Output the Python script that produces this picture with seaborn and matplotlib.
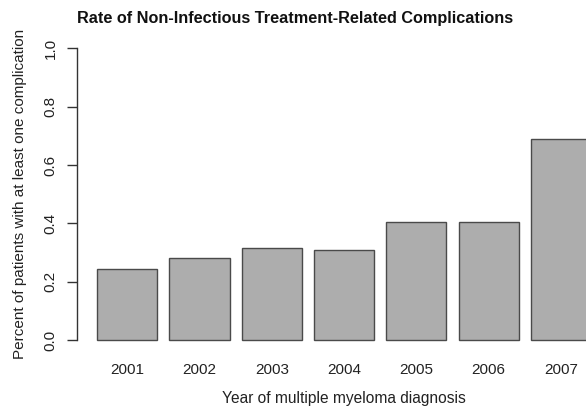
import matplotlib
matplotlib.use("Agg")
import matplotlib.pyplot as plt
import seaborn as sns
import pandas as pd

years = ["2001", "2002", "2003", "2004", "2005", "2006", "2007"]
rates = [0.242, 0.280, 0.317, 0.310, 0.406, 0.406, 0.689]
yticks = [0.0, 0.2, 0.4, 0.6, 0.8, 1.0]
ytick_labels = ["0.0", "0.2", "0.4", "0.6", "0.8", "1.0"]

sns.set_theme(style="white")
plt.rcParams['font.family'] = ['Liberation Sans', 'DejaVu Sans']

df = pd.DataFrame({"year": years, "rate": rates})

W, H = 586, 408
fig = plt.figure(figsize=(W / 100, H / 100), dpi=100)
ax = fig.add_axes([77.3 / W, (H - 351.7) / H, (W - 77.3) / W, (351.7 - 36.7) / H])

sns.barplot(data=df, x="year", y="rate", ax=ax, color="#adadad", width=0.833,
            edgecolor="#4a4a4a", linewidth=1.0, saturation=1)

ax.set_xlim(-0.69, 6.346)
ax.set_ylim(-0.04, 1.04)
for s in ["top", "right", "bottom"]:
    ax.spines[s].set_visible(False)
ax.spines["left"].set_bounds(0, 1)
ax.spines["left"].set_color("#333333")
ax.spines["left"].set_linewidth(1.0)

ax.set_yticks(yticks)
ax.set_yticklabels(ytick_labels, rotation=90, va="center", fontsize=11, color="#222222")
ax.tick_params(axis="y", length=7, width=1.0, color="#333333", left=True, pad=7)
ax.tick_params(axis="x", length=0, labelsize=11, labelcolor="#222222", pad=8)
ax.set_xlabel("")
ax.set_ylabel("")

fig.text(295.5 / W, 1 - 18 / H, "Rate of Non-Infectious Treatment-Related Complications",
         ha="center", va="center", fontsize=11.7, fontweight="bold", color="#111111")
fig.text(344 / W, 1 - 398 / H, "Year of multiple myeloma diagnosis",
         ha="center", va="center", fontsize=11.2, color="#222222")
fig.text(20 / W, 1 - 194 / H, "Percent of patients with at least one complication",
         ha="center", va="center", rotation=90, fontsize=11, color="#222222")

fig.savefig("out.png", dpi=100)
